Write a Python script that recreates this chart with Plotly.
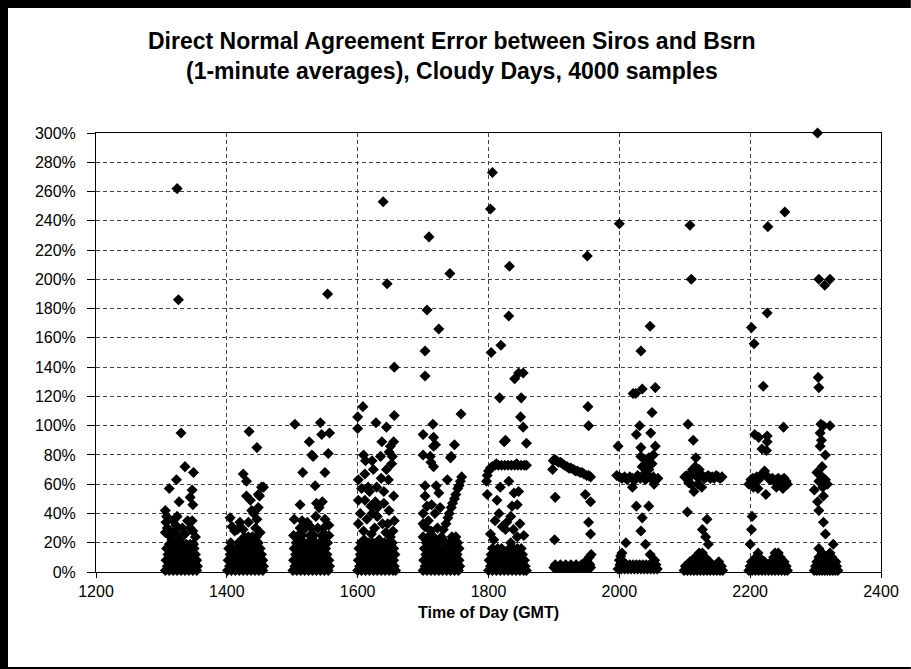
import plotly.graph_objs as go

# Direct normal agreement error (%) vs. time of day (HHMM, GMT), cloudy days
# points, grouped by hour: (time, error %)
hour_13 = [
    (1306, 1), (1312, 1), (1318, 1), (1324, 1), (1330, 1), (1336, 1), (1342, 1), (1348, 1), (1354, 1),
    (1309, 4), (1315, 4), (1321, 4), (1327, 4), (1333, 4), (1339, 4), (1345, 4), (1351, 4), (1355, 4),
    (1307, 8), (1313, 8), (1319, 8), (1325, 8), (1331, 8), (1337, 8), (1343, 8), (1349, 8), (1354, 8),
    (1310, 12), (1316, 12), (1322, 12), (1328, 12), (1334, 12), (1340, 12), (1346, 12), (1352, 12),
    (1308, 16), (1314, 16), (1320, 16), (1327, 16), (1333, 16), (1339, 16), (1345, 16), (1350, 16),
    (1312, 19), (1318, 19), (1325, 19), (1331, 19), (1338, 19), (1344, 19), (1349, 19),
    (1306, 42), (1308, 38), (1307, 34), (1309, 30), (1306, 27), (1312, 25), (1318, 35), (1322, 32),
    (1320, 28), (1326, 25), (1328, 22), (1316, 22), (1340, 35), (1344, 30), (1348, 28), (1347, 35),
    (1336, 26), (1352, 24), (1332, 30), (1324, 38),
    (1324, 262), (1326, 186), (1330, 95), (1336, 72), (1349, 68), (1323, 63), (1312, 57), (1347, 56),
    (1344, 51), (1327, 48), (1348, 46),
]
hour_14 = [
    (1401, 1), (1407, 1), (1413, 1), (1419, 1), (1425, 1), (1431, 1), (1437, 1), (1443, 1), (1449, 1), (1455, 1),
    (1404, 4), (1410, 4), (1416, 4), (1422, 4), (1428, 4), (1434, 4), (1440, 4), (1446, 4), (1452, 4), (1456, 4),
    (1402, 8), (1408, 8), (1414, 8), (1420, 8), (1426, 8), (1432, 8), (1438, 8), (1444, 8), (1450, 8), (1455, 8),
    (1405, 12), (1411, 12), (1417, 12), (1423, 12), (1429, 12), (1435, 12), (1441, 12), (1447, 12), (1453, 12),
    (1403, 16), (1409, 16), (1415, 16), (1421, 16), (1427, 16), (1433, 16), (1439, 16), (1445, 16), (1451, 16),
    (1406, 20), (1418, 20), (1424, 20), (1430, 20), (1436, 20), (1442, 20), (1448, 20),
    (1427, 24), (1433, 24), (1439, 24), (1445, 24),
    (1405, 37), (1408, 31), (1416, 29), (1425, 29), (1433, 34), (1441, 40), (1446, 36), (1451, 27),
    (1423, 22), (1412, 28), (1420, 34), (1438, 42), (1444, 30),
    (1448, 53), (1453, 58), (1456, 58), (1425, 67), (1430, 62), (1430, 52), (1436, 49), (1450, 52),
    (1448, 44), (1434, 96), (1446, 85),
]
hour_15 = [
    (1501, 1), (1507, 1), (1513, 1), (1519, 1), (1525, 1), (1531, 1), (1537, 1), (1543, 1), (1549, 1), (1555, 1),
    (1504, 4), (1510, 4), (1516, 4), (1522, 4), (1528, 4), (1534, 4), (1540, 4), (1546, 4), (1552, 4), (1557, 4),
    (1502, 8), (1508, 8), (1514, 8), (1520, 8), (1526, 8), (1532, 8), (1538, 8), (1544, 8), (1550, 8), (1556, 8),
    (1505, 12), (1511, 12), (1517, 12), (1523, 12), (1529, 12), (1535, 12), (1541, 12), (1547, 12), (1553, 12),
    (1503, 16), (1509, 16), (1515, 16), (1521, 16), (1527, 16), (1533, 16), (1539, 16), (1545, 16), (1551, 16),
    (1506, 20), (1512, 20), (1518, 20), (1524, 20), (1530, 20), (1536, 20), (1542, 20), (1548, 20), (1554, 20),
    (1502, 25), (1509, 25), (1515, 25), (1527, 25), (1533, 25), (1545, 25), (1551, 25), (1556, 25),
    (1512, 30), (1520, 30), (1530, 30), (1539, 30), (1548, 30),
    (1512, 46), (1535, 59), (1537, 47), (1541, 44), (1546, 48), (1536, 38), (1515, 35), (1503, 36),
    (1523, 34), (1550, 36), (1556, 32),
    (1504, 101), (1543, 102), (1557, 95), (1545, 94), (1526, 89), (1530, 80), (1555, 81), (1516, 68),
    (1550, 68), (1532, 79), (1554, 190),
]
hour_16 = [
    (1600, 1), (1606, 1), (1612, 1), (1618, 1), (1624, 1), (1630, 1), (1636, 1), (1642, 1), (1648, 1), (1654, 1), (1658, 1),
    (1603, 4), (1609, 4), (1615, 4), (1621, 4), (1627, 4), (1633, 4), (1639, 4), (1645, 4), (1651, 4), (1656, 4),
    (1601, 8), (1607, 8), (1613, 8), (1619, 8), (1625, 8), (1631, 8), (1637, 8), (1643, 8), (1649, 8), (1655, 8),
    (1604, 12), (1610, 12), (1616, 12), (1622, 12), (1628, 12), (1634, 12), (1640, 12), (1646, 12), (1652, 12), (1657, 12),
    (1602, 16), (1608, 16), (1614, 16), (1620, 16), (1626, 16), (1632, 16), (1638, 16), (1644, 16), (1650, 16), (1655, 16),
    (1605, 20), (1611, 20), (1617, 20), (1623, 20), (1629, 20), (1635, 20), (1641, 20), (1647, 20), (1653, 20),
    (1601, 33), (1609, 28), (1621, 26), (1633, 22), (1654, 28), (1630, 38), (1638, 33), (1656, 35),
    (1601, 49), (1611, 49), (1622, 40), (1630, 44), (1601, 63), (1611, 67), (1629, 58), (1647, 63),
    (1655, 52), (1644, 70), (1609, 80), (1622, 76), (1635, 79), (1612, 76), (1618, 55), (1640, 47),
    (1648, 42), (1604, 40), (1614, 36), (1626, 30), (1643, 27), (1650, 24), (1616, 58), (1624, 70),
    (1636, 64), (1606, 57), (1652, 74), (1640, 55), (1627, 48), (1646, 33), (1610, 22), (1620, 45),
    (1608, 113), (1600, 106), (1600, 98), (1628, 102), (1644, 99), (1656, 107), (1656, 140), (1637, 89),
    (1655, 89), (1650, 86), (1653, 79), (1648, 82), (1639, 253), (1645, 197),
]
hour_17 = [
    (1700, 1), (1706, 1), (1712, 1), (1718, 1), (1724, 1), (1730, 1), (1736, 1), (1742, 1), (1748, 1), (1754, 1),
    (1703, 4), (1709, 4), (1715, 4), (1721, 4), (1727, 4), (1733, 4), (1739, 4), (1745, 4), (1751, 4), (1756, 4),
    (1701, 8), (1707, 8), (1713, 8), (1719, 8), (1725, 8), (1731, 8), (1737, 8), (1743, 8), (1749, 8), (1755, 8),
    (1704, 12), (1710, 12), (1716, 12), (1722, 12), (1728, 12), (1734, 12), (1740, 12), (1746, 12), (1752, 12),
    (1702, 16), (1708, 16), (1714, 16), (1720, 16), (1726, 16), (1732, 16), (1738, 16), (1744, 16), (1750, 16), (1755, 16),
    (1705, 20), (1711, 20), (1717, 20), (1723, 20), (1735, 20), (1741, 20), (1747, 20), (1753, 20),
    (1700, 24), (1708, 24), (1716, 24), (1744, 24), (1750, 24),
    (1728, 24), (1731, 29), (1735, 33), (1738, 37), (1740, 40), (1743, 44), (1745, 47), (1748, 50),
    (1750, 53), (1753, 57), (1755, 59), (1757, 62), (1759, 65),
    (1700, 40), (1703, 31), (1713, 46), (1703, 52), (1724, 54), (1703, 59), (1720, 59), (1737, 63),
    (1700, 80), (1711, 79), (1716, 72), (1743, 79), (1748, 87), (1700, 94), (1716, 92), (1716, 86),
    (1719, 87), (1712, 75), (1742, 78), (1708, 35), (1718, 40), (1722, 30), (1712, 28), (1700, 33),
    (1726, 44), (1706, 45),
    (1709, 229), (1706, 179), (1724, 166), (1703, 151), (1703, 134), (1741, 204), (1715, 101), (1758, 108),
]
hour_18 = [
    (1800, 1), (1806, 1), (1812, 1), (1818, 1), (1824, 1), (1830, 1), (1836, 1), (1842, 1), (1848, 1), (1854, 1), (1858, 1),
    (1803, 4), (1809, 4), (1815, 4), (1821, 4), (1827, 4), (1833, 4), (1839, 4), (1845, 4), (1851, 4), (1856, 4),
    (1801, 8), (1807, 8), (1813, 8), (1819, 8), (1825, 8), (1831, 8), (1837, 8), (1843, 8), (1849, 8), (1855, 8),
    (1804, 12), (1810, 12), (1816, 12), (1822, 12), (1828, 12), (1834, 12), (1840, 12), (1846, 12), (1852, 12),
    (1806, 16), (1814, 16), (1820, 16), (1832, 16), (1838, 16), (1844, 16), (1850, 16),
    (1797, 62), (1798, 66), (1800, 69), (1803, 71), (1806, 72), (1810, 73), (1815, 73), (1820, 73),
    (1825, 73), (1830, 73), (1835, 73), (1840, 73), (1845, 73), (1850, 73), (1855, 73), (1858, 73),
    (1812, 74), (1843, 74),
    (1831, 62), (1798, 53), (1813, 49), (1839, 54), (1844, 46), (1816, 40), (1834, 38), (1821, 31),
    (1803, 26), (1844, 24), (1854, 25), (1834, 20), (1810, 35), (1826, 29), (1836, 45), (1808, 22),
    (1848, 33), (1818, 58), (1846, 55), (1828, 34), (1838, 29),
    (1806, 273), (1803, 248), (1832, 209), (1831, 175), (1819, 155), (1804, 150), (1846, 136), (1840, 132),
    (1853, 136), (1817, 119), (1850, 119), (1849, 106), (1853, 99), (1826, 90), (1858, 88), (1824, 89),
]
hour_19 = [
    (1898, 70), (1899, 76), (1901, 77), (1904, 76), (1907, 75), (1910, 75), (1913, 74), (1916, 73),
    (1920, 72), (1923, 71), (1926, 71), (1930, 70), (1933, 69), (1936, 69), (1940, 68), (1943, 68),
    (1946, 67), (1950, 66), (1953, 66), (1956, 65),
    (1902, 51), (1948, 53), (1956, 48), (1953, 34), (1956, 26), (1901, 22), (1952, 113), (1953, 100),
    (1951, 216),
    (1900, 3), (1904, 3), (1908, 3), (1912, 3), (1916, 3), (1920, 3), (1924, 3), (1928, 3), (1932, 3),
    (1936, 3), (1940, 3), (1944, 3), (1948, 3), (1952, 3), (1956, 3),
    (1902, 5), (1910, 5), (1918, 5), (1926, 5), (1934, 5), (1942, 5), (1950, 5), (1955, 5),
    (1950, 8), (1954, 10), (1957, 12), (1953, 6),
]
hour_20 = [
    (1996, 66), (2000, 65), (2004, 64), (2008, 65), (2012, 63), (2016, 65), (2020, 64), (2024, 63),
    (2028, 66), (2032, 64), (2036, 65), (2040, 63), (2044, 66), (2048, 64), (2052, 65), (2056, 63),
    (2059, 64), (2020, 58), (2053, 60), (2040, 68), (2045, 70), (2035, 72), (2050, 74), (2042, 76),
    (1998, 86), (2021, 122), (2025, 122), (2035, 125), (2055, 126), (2050, 109), (2031, 100), (2026, 94),
    (2048, 95), (2033, 85), (2055, 86), (2033, 79), (2045, 78), (2052, 80), (2047, 168), (2033, 151),
    (2000, 238), (2038, 73),
    (2026, 45), (2045, 45), (2035, 37), (2033, 28), (2040, 19), (2047, 12), (2010, 20), (2004, 13),
    (1998, 2), (2003, 2), (2008, 2), (2013, 2), (2018, 2), (2023, 2), (2028, 2), (2033, 2), (2038, 2),
    (2043, 2), (2048, 2), (2053, 2), (2058, 2),
    (2001, 5), (2006, 5), (2011, 5), (2016, 5), (2021, 5), (2026, 5), (2031, 5), (2036, 5), (2041, 5),
    (2046, 5), (2051, 5), (2056, 5),
    (2000, 8), (2004, 8), (2054, 8), (2002, 11),
]
hour_21 = [
    (2100, 65), (2103, 66), (2106, 64), (2109, 67), (2112, 70), (2115, 68), (2118, 66), (2121, 64),
    (2124, 65), (2127, 66), (2130, 64), (2133, 65), (2136, 66), (2139, 64), (2142, 65), (2145, 64),
    (2148, 66), (2151, 65), (2154, 64), (2157, 65), (2114, 55), (2126, 58), (2110, 60), (2120, 60),
    (2106, 61), (2116, 72), (2122, 70),
    (2105, 101), (2113, 90), (2117, 78), (2108, 237), (2110, 200),
    (2104, 41), (2134, 36), (2127, 29), (2132, 24), (2136, 19),
    (2099, 1), (2104, 1), (2109, 1), (2114, 1), (2119, 1), (2124, 1), (2129, 1), (2134, 1), (2139, 1),
    (2144, 1), (2149, 1), (2154, 1), (2158, 1),
    (2101, 4), (2106, 4), (2111, 4), (2116, 4), (2121, 4), (2126, 4), (2131, 4), (2136, 4), (2141, 4),
    (2146, 4), (2151, 4), (2156, 4),
    (2108, 7), (2113, 7), (2118, 7), (2123, 7), (2128, 7), (2133, 7), (2138, 7), (2152, 7),
    (2116, 10), (2121, 10), (2126, 10), (2131, 10), (2122, 13), (2127, 13),
]
hour_22 = [
    (2198, 60), (2201, 63), (2204, 64), (2207, 62), (2210, 65), (2213, 63), (2216, 66), (2219, 67),
    (2222, 69), (2225, 66), (2228, 64), (2231, 63), (2234, 64), (2237, 62), (2240, 63), (2243, 64),
    (2246, 62), (2249, 63), (2252, 64), (2255, 62), (2257, 60), (2205, 58), (2212, 57), (2224, 53),
    (2240, 58), (2250, 57),
    (2202, 167), (2206, 156), (2220, 127), (2251, 99), (2207, 94), (2226, 93), (2226, 89), (2225, 83),
    (2227, 236), (2253, 246), (2226, 177), (2213, 92), (2218, 84),
    (2203, 38), (2202, 29), (2200, 19),
    (2198, 1), (2203, 1), (2208, 1), (2213, 1), (2218, 1), (2223, 1), (2228, 1), (2233, 1), (2238, 1),
    (2243, 1), (2248, 1), (2253, 1), (2257, 1),
    (2200, 4), (2205, 4), (2210, 4), (2215, 4), (2220, 4), (2225, 4), (2230, 4), (2235, 4), (2240, 4),
    (2245, 4), (2250, 4), (2255, 4),
    (2202, 7), (2207, 7), (2212, 7), (2217, 7), (2222, 7), (2232, 7), (2237, 7), (2242, 7), (2247, 7),
    (2252, 7),
    (2209, 10), (2214, 10), (2236, 10), (2241, 10), (2246, 10), (2212, 13), (2238, 13), (2243, 13),
]
hour_23 = [
    (2304, 133), (2305, 126), (2308, 101), (2322, 100), (2307, 95), (2307, 86), (2315, 80), (2310, 72),
    (2308, 66), (2305, 62), (2298, 56), (2315, 63), (2312, 52), (2305, 42), (2312, 34), (2315, 26),
    (2305, 16), (2327, 19), (2303, 300), (2305, 200), (2322, 200), (2314, 196), (2309, 90), (2311, 58),
    (2303, 48), (2318, 60), (2312, 100), (2302, 68),
    (2298, 1), (2302, 1), (2306, 1), (2310, 1), (2314, 1), (2318, 1), (2322, 1), (2326, 1), (2330, 1), (2334, 1),
    (2300, 4), (2304, 4), (2308, 4), (2312, 4), (2316, 4), (2320, 4), (2324, 4), (2328, 4), (2332, 4),
    (2302, 7), (2307, 7), (2312, 7), (2317, 7), (2322, 7), (2327, 7), (2331, 7),
    (2305, 10), (2310, 10), (2320, 10), (2325, 10), (2310, 13), (2322, 13),
]

hours = [hour_13, hour_14, hour_15, hour_16, hour_17, hour_18,
         hour_19, hour_20, hour_21, hour_22, hour_23]

title_lines = ["Direct Normal Agreement Error between Siros and Bsrn",
               "(1-minute averages), Cloudy Days, 4000 samples"]
x_title = "Time of Day (GMT)"

# 座標をまとめる
times = [p[0] for h in hours for p in h]
errors = [p[1] for h in hours for p in h]

FONT = "Arial, Liberation Sans, sans-serif"

trace = go.Scatter(x=times, y=errors, mode="markers", cliponaxis=False,
                   marker=dict(symbol="diamond", size=8.5, color="black", line_width=0),
                   showlegend=False, hoverinfo="skip")

fig = go.Figure(data=[trace])

axis_common = dict(showgrid=True, gridcolor="#444444", gridwidth=1, griddash="4px,3px",
                   showline=True, linecolor="black", linewidth=1, mirror=True,
                   ticks="outside", tickcolor="black", zeroline=False,
                   tickfont=dict(family=FONT, size=16, color="black"))

fig.update_xaxes(range=[1200, 2400], dtick=200, tick0=1200, ticklen=5, ticklabelstandoff=0,
                 **axis_common)
fig.update_yaxes(range=[0, 300], dtick=20, tick0=0, ticksuffix="%", ticklen=8,
                 ticklabelstandoff=8, **axis_common)

# 外枠 (左・上が太い黒、下は細線)
frame = [
    dict(type="rect", xref="paper", yref="paper", x0=-0.1223, x1=-0.1121, y0=-0.221, y1=1.303,
         fillcolor="black", line_width=0),
    dict(type="rect", xref="paper", yref="paper", x0=-0.1223, x1=1.038, y0=1.2848, y1=1.303,
         fillcolor="black", line_width=0),
    dict(type="rect", xref="paper", yref="paper", x0=-0.1223, x1=1.038, y0=-0.221, y1=-0.2165,
         fillcolor="black", line_width=0),
]

annotations = [
    dict(text="<b>%s</b>" % title_lines[0], xref="paper", yref="paper", x=0.4535, y=1.209,
         yanchor="middle", showarrow=False, font=dict(family=FONT, size=23, color="black")),
    dict(text="<b>%s</b>" % title_lines[1], xref="paper", yref="paper", x=0.4535, y=1.141,
         yanchor="middle", showarrow=False, font=dict(family=FONT, size=23, color="black")),
    dict(text="<b>%s</b>" % x_title, xref="paper", yref="paper", x=0.5, y=-0.093,
         yanchor="middle", showarrow=False, font=dict(family=FONT, size=16, color="black")),
]

fig.update_layout(width=911, height=669, autosize=False,
                  margin=dict(l=96, r=30, t=133, b=97),
                  paper_bgcolor="white", plot_bgcolor="white",
                  shapes=frame, annotations=annotations)

# ページの余白・スクロールバーをなくす
fig.write_html("out.html", config={"displayModeBar": False},
               post_script="document.body.style.margin='0';"
                           "document.body.style.overflow='hidden';"
                           "document.documentElement.style.overflow='hidden';")
